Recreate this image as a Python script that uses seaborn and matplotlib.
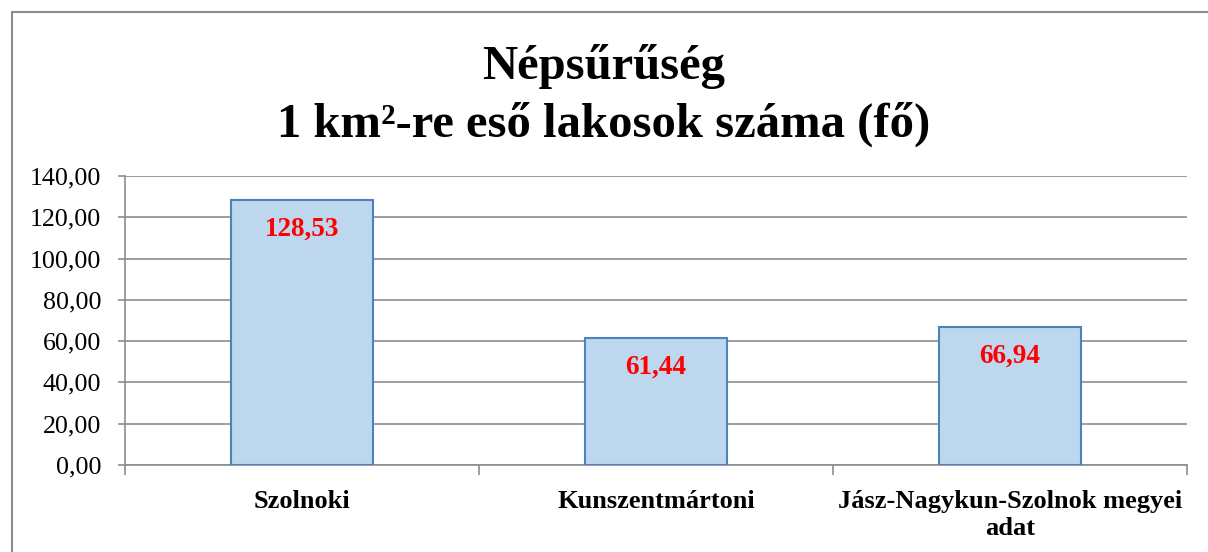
import matplotlib
matplotlib.use("Agg")
import matplotlib.pyplot as plt
import matplotlib.patches as patches
import seaborn as sns

categories = ["Szolnoki", "Kunszentmártoni", "Jász-Nagykun-Szolnok megyei\nadat"]
values = [128.53, 61.44, 66.94]
yticks = [0, 20, 40, 60, 80, 100, 120, 140]

sns.set_theme(style="white")
plt.rcParams["font.family"] = ["Liberation Serif", "DejaVu Serif"]
plt.rcParams["text.color"] = "black"
plt.rcParams["xtick.color"] = "black"
plt.rcParams["ytick.color"] = "black"

fig = plt.figure(figsize=(12.08, 5.52), dpi=100)
ax = fig.add_axes([125 / 1208, 1 - 465 / 552, 1062 / 1208, 289 / 552])

sns.barplot(x=categories, y=values, ax=ax, width=0.4, color="#BDD7EE",
            edgecolor="#4F81BD", linewidth=1.5, saturation=1, zorder=3)

# Gridlines and axes
ax.set_ylim(0, 140)
ax.set_xlim(-0.5, 2.5)
ax.set_yticks(yticks)
ax.set_yticklabels([f"{v:.2f}".replace(".", ",") for v in yticks], fontsize=18.7)
ax.yaxis.grid(True, color="#8C8C8C", linewidth=1.2, zorder=0)
for s in ["top", "right"]:
    ax.spines[s].set_visible(False)
for s in ["left", "bottom"]:
    ax.spines[s].set_color("#8C8C8C")
    ax.spines[s].set_linewidth(1.2)

ax.tick_params(axis="y", left=True, length=5, width=1.2, color="#8C8C8C", labelcolor="black", pad=12)
ax.set_xticks([0, 1, 2])
ax.set_xticklabels(categories, fontsize=19, fontweight="bold", linespacing=1.2)
ax.tick_params(axis="x", bottom=False, pad=12, labelcolor="black")
ax.set_xticks([-0.5, 0.5, 1.5, 2.5], minor=True)
ax.tick_params(axis="x", which="minor", bottom=True, length=7, width=1.2, color="#8C8C8C")
ax.set_xlabel("")
ax.set_ylabel("")

# Value labels
for i, v in enumerate(values):
    ax.annotate(f"{v:.2f}".replace(".", ","), (i, v), xytext=(0, -21),
                textcoords="offset points", ha="center", va="center",
                color="#FF0000", fontsize=19.5, fontweight="bold", zorder=5)

fig.text(0.5, 0.827, "Népsűrűség\n1 km²-re eső lakosok száma (fő)", ha="center", va="center",
         fontsize=35, fontweight="bold", linespacing=1.36, color="black")

fig.patches.append(patches.Rectangle((12 / 1208, -0.1), 1.2, 1.1 - 12 / 552, transform=fig.transFigure,
                                     fill=False, edgecolor="#8C8C8C", linewidth=1.5))

fig.savefig("out.png", dpi=100)
